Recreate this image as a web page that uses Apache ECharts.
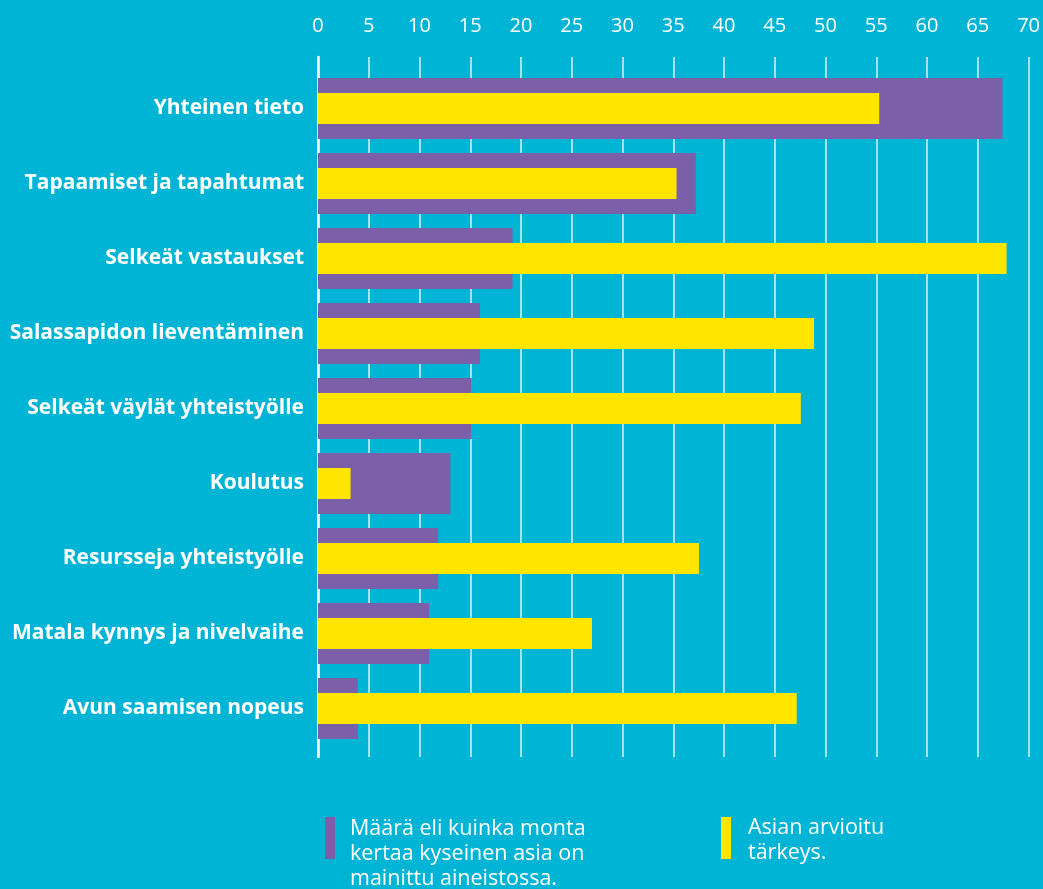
<!DOCTYPE html>
<html>
<head>
<meta charset="utf-8">
<script src="https://cdn.jsdelivr.net/npm/echarts@6/dist/echarts.min.js"></script>
<style>
  html, body { margin: 0; padding: 0; background: #00b4d6; }
  #chart { width: 1043px; height: 889px; }
</style>
</head>
<body>
<div id="chart"></div>
<script>
// Categories, top to bottom
const categories = [
  'Yhteinen tieto',
  'Tapaamiset ja tapahtumat',
  'Selkeät vastaukset',
  'Salassapidon lieventäminen',
  'Selkeät väylät yhteistyölle',
  'Koulutus',
  'Resursseja yhteistyölle',
  'Matala kynnys ja nivelvaihe',
  'Avun saamisen nopeus'
];

// How many times each topic is mentioned in the material
const mentionCounts = [67.2, 37.1, 19.1, 15.9, 15.1, 13.0, 11.8, 10.9, 3.9];

// Estimated importance of each topic
const importance = [55.1, 35.2, 67.6, 48.7, 47.4, 3.2, 37.4, 26.9, 47.0];

// Value axis range and step (tick labels 0, 5, ... 70)
const axisMin = 0;
const axisMax = 70;
const axisStep = 5;

const seriesNames = [
  'Määrä eli kuinka monta\nkertaa kyseinen asia on\nmainittu aineistossa.',
  'Asian arvioitu\ntärkeys.'
];

const BG = '#00b4d6';
const PURPLE = '#7b5fa9';
const YELLOW = '#ffe500';
const FONT = '"Open Sans", "Noto Sans", sans-serif';

// Legend text hangs from the top of its colour bar: an invisible spacer line
// pushes the centred text block down.
function legendStyle(spacer, padLeft) {
  return {
    color: '#ffffff', fontSize: 21.5, lineHeight: 25, fontFamily: FONT,
    padding: [0, 0, 0, padLeft],
    rich: { s: { fontSize: 2, lineHeight: spacer } }
  };
}

const chart = echarts.init(document.getElementById('chart'), null, { renderer: 'canvas' });

chart.setOption({
  backgroundColor: BG,
  animation: false,
  grid: [
    // bars
    { left: 318, right: 12, top: 71, height: 675 },
    // taller frame carrying the grid lines and top tick labels
    { left: 318, right: 12, top: 57, height: 700 }
  ],
  xAxis: [
    { gridIndex: 0, type: 'value', min: axisMin, max: axisMax, interval: axisStep, show: false },
    {
      gridIndex: 1, type: 'value', position: 'top',
      min: axisMin, max: axisMax, interval: axisStep,
      axisLine: { show: false },
      axisTick: { show: false },
      axisLabel: { color: '#ffffff', fontSize: 20, fontFamily: FONT, margin: 21 },
      splitLine: { show: true, lineStyle: { color: 'rgba(255,255,255,0.85)', width: 1.5 } }
    }
  ],
  yAxis: [
    {
      gridIndex: 0, type: 'category', data: categories, inverse: true,
      axisLine: { show: false }, axisTick: { show: false }, splitLine: { show: false },
      axisLabel: { color: '#ffffff', fontSize: 21, fontWeight: 'bold', fontFamily: FONT, margin: 14 }
    },
    {
      gridIndex: 1, type: 'value', min: 0, max: 1,
      axisLabel: { show: false }, axisTick: { show: false }, splitLine: { show: false },
      axisLine: { show: true, lineStyle: { color: '#ffffff', width: 2.5 } }
    },
    {
      gridIndex: 0, type: 'category', data: categories, inverse: true, show: false
    }
  ],
  legend: [
    {
      data: [seriesNames[0]], left: 325, top: 785, padding: 0,
      itemWidth: 10, itemHeight: 42, icon: 'rect', selectedMode: false,
      formatter: name => '{s| }\n' + name,
      textStyle: legendStyle(31, 10)
    },
    {
      data: [seriesNames[1]], left: 721, top: 810.5, padding: 0,
      itemWidth: 10, itemHeight: 42, icon: 'rect', selectedMode: false,
      formatter: name => '{s| }\n' + name,
      textStyle: legendStyle(5, 12)
    }
  ],
  series: [
    {
      name: seriesNames[0], type: 'bar', xAxisIndex: 0, yAxisIndex: 0,
      data: mentionCounts, barWidth: 61, itemStyle: { color: PURPLE }, z: 2
    },
    {
      name: seriesNames[1], type: 'bar', xAxisIndex: 0, yAxisIndex: 2,
      data: importance, barWidth: 31, itemStyle: { color: YELLOW }, z: 3
    }
  ]
});
</script>
</body>
</html>
